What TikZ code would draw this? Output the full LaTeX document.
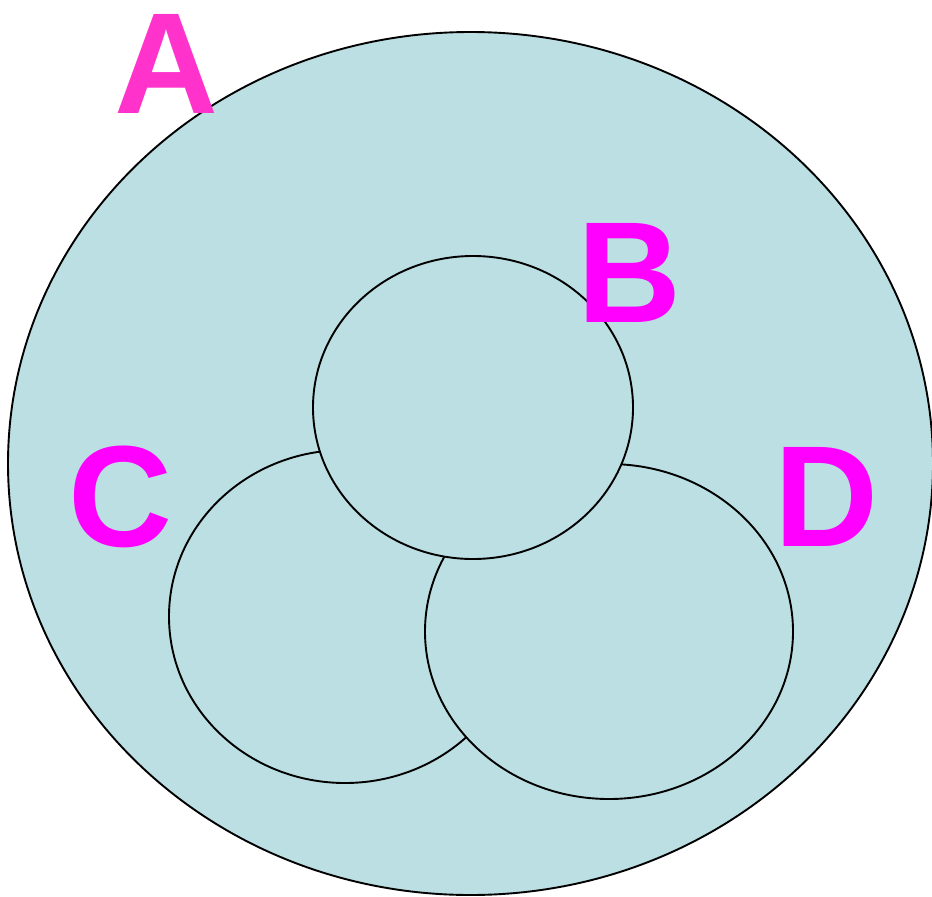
\documentclass[tikz,border=0pt]{standalone}
\usepackage{fontspec}
\setmainfont{Liberation Sans}
\definecolor{fillc}{HTML}{BBDFE3}
\definecolor{pinkA}{HTML}{FF33CC}
\definecolor{magBCD}{HTML}{FF00FF}
\tikzset{
  setshape/.style={draw=black, line width=1.9pt, fill=fillc},
  setlabel/.style={font=\fontsize{144}{144}\selectfont\bfseries, inner sep=0pt, anchor=base}
}
\begin{document}
\begin{tikzpicture}[x=1pt, y=-1pt]
\useasboundingbox (0,0) rectangle (932,897);
\fill[white] (0,0) rectangle (932,897);
\draw[setshape] (470.5,463.5) ellipse [x radius=462.5, y radius=431.5];
\draw[setshape] (345,616.5) ellipse [x radius=176, y radius=166.5];
\draw[setshape] (609,631.5) ellipse [x radius=184, y radius=167.5];
\draw[setshape] (473,407.5) ellipse [x radius=160, y radius=151.5];
\node[setlabel, text=pinkA] (A) at (166,113) {A};
\node[setlabel, text=magBCD] (B) at (629,322) {B};
\node[setlabel, text=magBCD] (C) at (120.5,546) {C};
\node[setlabel, text=magBCD] (D) at (826.5,546) {D};
\end{tikzpicture}
\end{document}
